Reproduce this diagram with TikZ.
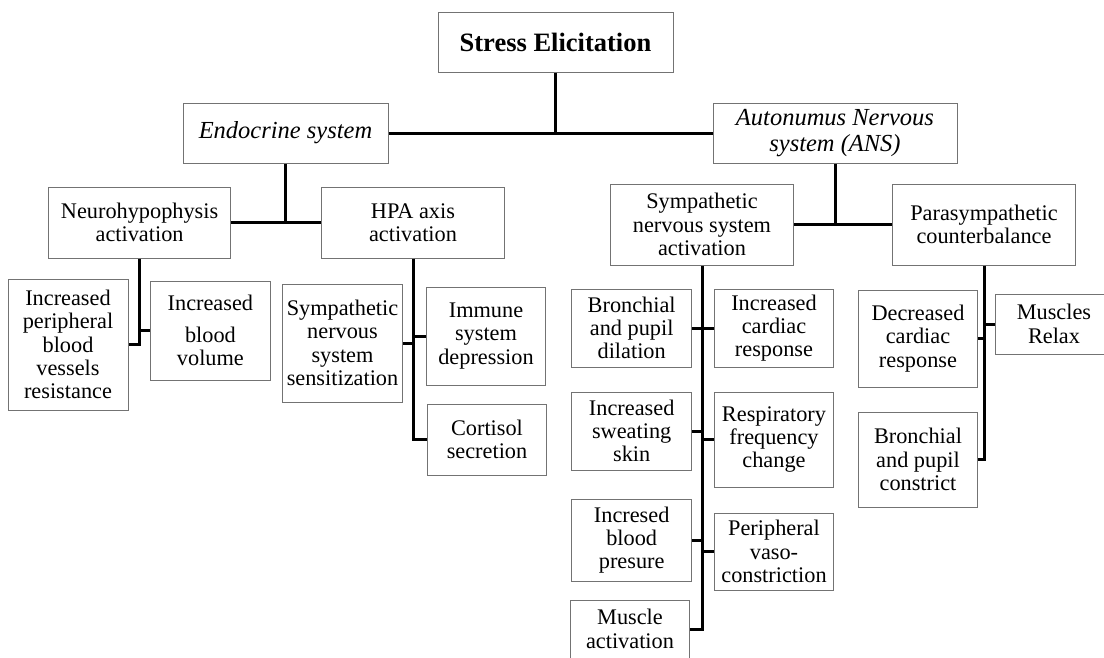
\documentclass[tikz,border=0pt]{standalone}
\usepackage{fontspec}
\setmainfont{Liberation Serif}
\usetikzlibrary{
    positioning
}

\begin{document}
\begin{tikzpicture}[
    x=1pt, y=-1pt,
    box/.style={
        rectangle,
        draw=black!55,
        line width=1pt,
        align=center,
        inner sep=0pt,
        font=\fontsize{22.3}{23.3}\selectfont,
        fill=white
    },
    sysbox/.style={
        box,
        font=\fontsize{24.5}{25.5}\selectfont\itshape
    },
    topbox/.style={
        box,
        font=\fontsize{26.5}{30}\selectfont\bfseries
    },
    link/.style={
        line width=3pt,
        draw=black
    }
]
\useasboundingbox (0,0) rectangle (1104,657);

% =========================================================
% Top level
% =========================================================
\node[topbox, minimum width=235pt, minimum height=60pt] (stress) at (555.5,42)
{Stress Elicitation};

\node[sysbox, minimum width=205pt, minimum height=60pt] (endo) at (285.5,133)
{Endocrine system};

\node[sysbox, minimum width=244pt, minimum height=60pt] (ans) at (835,133)
{\raisebox{-3pt}{Autonumus Nervous}\\\raisebox{-3pt}{system (ANS)}};

% =========================================================
% Second level
% =========================================================
\node[box, minimum width=182pt, minimum height=71pt] (neuro) at (139.6,222.5)
{Neurohypophysis\\activation};

\node[box, minimum width=183pt, minimum height=71pt] (hpa) at (413,222.5)
{HPA axis\\activation};

\node[box, minimum width=183pt, minimum height=81pt] (symp) at (702,224.5)
{Sympathetic\\nervous system\\activation};

\node[box, minimum width=183pt, minimum height=81pt] (para) at (984,224.5)
{Parasympathetic\\counterbalance};

% =========================================================
% Endocrine effects
% =========================================================
\node[box, minimum width=120pt, minimum height=131pt] (vessels) at (68,344.5)
{Increased\\peripheral\\blood\\vessels\\resistance};

\node[box, minimum width=120pt, minimum height=99pt] (bloodvol) at (210.4,330.5)
{Increased\\[8pt]blood\\volume};

\node[box, minimum width=120pt, minimum height=118pt] (sensit) at (342.5,343)
{Sympathetic\\nervous\\system\\sensitization};

\node[box, minimum width=119pt, minimum height=98pt] (immune) at (486,336)
{Immune\\system\\depression};

\node[box, minimum width=119pt, minimum height=71pt] (cortisol) at (487,439.5)
{Cortisol\\secretion};

% =========================================================
% Sympathetic effects
% =========================================================
\node[box, minimum width=120pt, minimum height=78pt] (dilation) at (631.7,328)
{Bronchial\\and pupil\\dilation};

\node[box, minimum width=119pt, minimum height=78pt] (cardinc) at (774,328)
{Increased\\cardiac\\response};

\node[box, minimum width=120pt, minimum height=78pt] (sweat) at (631.7,431)
{Increased\\sweating\\skin};

\node[box, minimum width=119pt, minimum height=95pt] (resp) at (774,439.5)
{Respiratory\\frequency\\change};

\node[box, minimum width=120pt, minimum height=82pt] (pressure) at (631.7,540)
{Incresed\\blood\\presure};

\node[box, minimum width=119pt, minimum height=77pt] (vaso) at (774,551.5)
{Peripheral\\vaso-\\constriction};

\node[box, minimum width=119pt, minimum height=58pt] (muscact) at (630,629)
{Muscle\\activation};

% =========================================================
% Parasympathetic effects
% =========================================================
\node[box, minimum width=119pt, minimum height=97pt] (carddec) at (918,338.5)
{Decreased\\cardiac\\response};

\node[box, minimum width=118pt, minimum height=60pt] (relax) at (1054,324)
{Muscles\\Relax};

\node[box, minimum width=119pt, minimum height=95pt] (constrict) at (918,459.5)
{Bronchial\\and pupil\\constrict};

% =========================================================
% Connectors
% =========================================================
\draw[link] (stress.south) -- (stress.south |- endo.east);
\draw[link] (endo.east) -- (ans.west);

\draw[link] (endo.south) -- (endo.south |- neuro.east);
\draw[link] (neuro.east) -- (hpa.west);

\draw[link] (ans.south) -- (ans.south |- symp.east);
\draw[link] (symp.east) -- (para.west);

\draw[link] (neuro.south) -- (neuro.south |- vessels.east) -- (vessels.east);
\draw[link] (bloodvol.west) -- (bloodvol.west -| neuro.south);

\draw[link] (hpa.south) -- (hpa.south |- cortisol.west) -- (cortisol.west);
\draw[link] (sensit.east) -- (sensit.east -| hpa.south);
\draw[link] (immune.west) -- (immune.west -| hpa.south);

\draw[link] (symp.south) -- (symp.south |- muscact.east) -- (muscact.east);
\draw[link] (dilation.east) -- (dilation.east -| symp.south);
\draw[link] (cardinc.west) -- (cardinc.west -| symp.south);
\draw[link] (sweat.east) -- (sweat.east -| symp.south);
\draw[link] (resp.west) -- (resp.west -| symp.south);
\draw[link] (pressure.east) -- (pressure.east -| symp.south);
\draw[link] (vaso.west) -- (vaso.west -| symp.south);

\draw[link] (para.south) -- (para.south |- constrict.east) -- (constrict.east);
\draw[link] (carddec.east) -- (carddec.east -| para.south);
\draw[link] (relax.west) -- (relax.west -| para.south);

\end{tikzpicture}
\end{document}
